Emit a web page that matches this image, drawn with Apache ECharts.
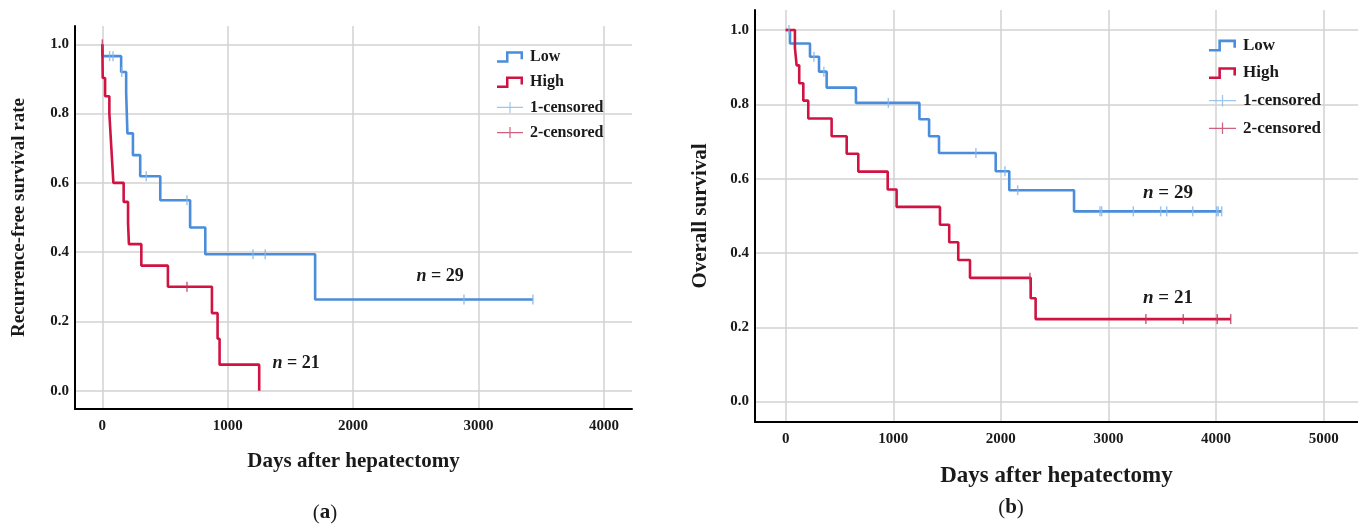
<!DOCTYPE html>
<html><head><meta charset="utf-8">
<script src="https://cdn.jsdelivr.net/npm/echarts@6/dist/echarts.min.js"></script>
<style>html,body{margin:0;padding:0;background:#fff}#c{width:1358px;height:528px}</style>
</head><body><div id="c"></div><script>
// ---------- (a) Recurrence-free survival ----------
const rfsLowTimes = [0, 2, 150, 190, 200, 244, 302, 462, 700, 821, 1697, 3434];
const rfsLowSurv  = [1.0, 0.966, 0.92, 0.86, 0.743, 0.68, 0.619, 0.55, 0.471, 0.394, 0.263, 0.263];
const rfsLowCensor = [58, 85, 155, 350, 675, 1201, 1299, 2884, 3434];

const rfsHighTimes = [0, 3, 22, 56, 64, 72, 80, 88, 170, 205, 212, 311, 523, 874, 919, 935, 1251];
const rfsHighSurv  = [1.0, 0.903, 0.85, 0.80, 0.75, 0.70, 0.65, 0.60, 0.545, 0.485, 0.423, 0.361, 0.30, 0.224, 0.150, 0.075, 0.0];
const rfsHighCensor = [0, 675];

// ---------- (b) Overall survival ----------
const osLowTimes = [0, 40, 226, 310, 381, 653, 1243, 1333, 1425, 1952, 2078, 2680, 4052];
const osLowSurv  = [1.0, 0.964, 0.928, 0.888, 0.845, 0.804, 0.760, 0.714, 0.669, 0.62, 0.569, 0.512, 0.512];
const osLowCensor = [31, 263, 355, 954, 1768, 2038, 2156, 2921, 2937, 3231, 3485, 3541, 3783, 4006, 4020, 4052];

const osHighTimes = [0, 86, 102, 126, 164, 210, 427, 567, 675, 948, 1031, 1434, 1520, 1604, 1713, 2277, 2323, 4136];
const osHighSurv  = [1.0, 0.952, 0.905, 0.857, 0.810, 0.762, 0.714, 0.667, 0.619, 0.571, 0.524, 0.476, 0.429, 0.381, 0.333, 0.278, 0.222, 0.222];
const osHighCensor = [2270, 3348, 3695, 4011, 4136];

// tick values / labels
const xTicksA = [0, 1000, 2000, 3000, 4000];
const xTicksB = [0, 1000, 2000, 3000, 4000, 5000];
const yTicks = [0, 0.2, 0.4, 0.6, 0.8, 1.0];
const legendNames = ['Low', 'High', '1-censored', '2-censored'];
const groupN = { low: 29, high: 21 };

// ---------- helpers ----------
function curve(times, surv) { return times.map((t, i) => [t, surv[i]]); }
function survAt(times, surv, t) {
  let s = surv[0];
  for (let i = 0; i < times.length; i++) { if (times[i] <= t) s = surv[i]; }
  return s;
}
function censorPts(times, surv, ct) { return ct.map(t => [t, survAt(times, surv, t)]); }

const BLUE = '#4a8ddb', RED = '#cf1443', BLUE_C = '#86b6ea', RED_C = '#c23a5c';
const FF = "'Liberation Serif', 'DejaVu Serif', serif";
const TXT = '#1a1a1a';
const stepIcon = 'path://M0,9 L9,9 L9,0 L26,0 L26,8 L23.5,8 L23.5,2.5 L11.5,2.5 L11.5,11.5 L0,11.5 Z';
const plusIcon = 'path://M0,5.4 L12.4,5.4 L12.4,0.5 L13.6,0.5 L13.6,5.4 L26,5.4 L26,6.6 L13.6,6.6 L13.6,11.5 L12.4,11.5 L12.4,6.6 L0,6.6 Z';

function xAxisCfg(gi, min, max, ticks, fs, nameFs, gap) {
  return {
    type: 'value', gridIndex: gi, min: min, max: max,
    name: 'Days after hepatectomy', nameLocation: 'middle', nameGap: gap,
    nameTextStyle: { fontFamily: FF, fontWeight: 'bold', fontSize: nameFs, color: TXT },
    axisLine: { show: true, onZero: false, lineStyle: { color: '#000', width: 2 } },
    axisTick: { show: false, customValues: ticks },
    axisLabel: { customValues: ticks, margin: 10, fontFamily: FF, fontWeight: 'bold', fontSize: fs, color: TXT,
      formatter: v => String(Math.round(v)) },
    splitLine: { show: true, lineStyle: { color: '#d2d2d2', width: 1.5 } }
  };
}
function yAxisCfg(gi, min, max, name, fs, nameFs, gap) {
  return {
    type: 'value', gridIndex: gi, min: min, max: max,
    name: name, nameLocation: 'middle', nameGap: gap, nameRotate: 90,
    nameTextStyle: { fontFamily: FF, fontWeight: 'bold', fontSize: nameFs, color: TXT },
    axisLine: { show: true, onZero: false, lineStyle: { color: '#000', width: 2 } },
    axisTick: { show: false, customValues: yTicks },
    axisLabel: { customValues: yTicks, margin: 6, fontFamily: FF, fontWeight: 'bold', fontSize: fs, color: TXT,
      formatter: v => v.toFixed(1) },
    splitLine: { show: true, lineStyle: { color: '#d2d2d2', width: 1.5 } }
  };
}
function nMark(n, x, y, fs) {
  return {
    symbol: 'circle', symbolSize: 0, silent: true,
    data: [{ coord: [x, y], value: n }],
    label: { show: true, position: 'inside', formatter: '{i|n}{b| = ' + n + '}',
      rich: { i: { fontFamily: FF, fontStyle: 'italic', fontWeight: 'bold', fontSize: fs, color: TXT },
              b: { fontFamily: FF, fontWeight: 'bold', fontSize: fs, color: TXT } } }
  };
}
function lineSeries(name, gi, times, surv, color, mark) {
  const s = { name: name, type: 'line', xAxisIndex: gi, yAxisIndex: gi, step: 'end', symbol: 'none',
    data: curve(times, surv), lineStyle: { color: color, width: 2.6 }, itemStyle: { color: color }, z: 3 };
  if (mark) s.markPoint = mark;
  return s;
}
function censorSeries(name, gi, times, surv, ct, color) {
  return { name: name, type: 'scatter', xAxisIndex: gi, yAxisIndex: gi, symbol: 'rect', symbolSize: [1.5, 10],
    data: censorPts(times, surv, ct), itemStyle: { color: color }, z: 4 };
}
function legendCfg(left, top, fs, iw, ih, gap) {
  return {
    orient: 'vertical', left: left, top: top, itemWidth: iw, itemHeight: ih, itemGap: gap,
    selectedMode: false,
    textStyle: { fontFamily: FF, fontWeight: 'bold', fontSize: fs, color: TXT, lineHeight: ih, padding: [0, 0, 0, 2] },
    data: [
      { name: legendNames[0], icon: stepIcon, itemStyle: { color: BLUE } },
      { name: legendNames[1], icon: stepIcon, itemStyle: { color: RED } },
      { name: legendNames[2], icon: plusIcon, itemStyle: { color: BLUE_C } },
      { name: legendNames[3], icon: plusIcon, itemStyle: { color: RED_C } }
    ]
  };
}

const chart = echarts.init(document.getElementById('c'), null, { renderer: 'canvas' });
chart.setOption({
  animation: false,
  backgroundColor: '#fff',
  grid: [
    { left: 75, top: 26, width: 557, height: 383 },
    { left: 755, top: 10, width: 603, height: 412 }
  ],
  xAxis: [
    xAxisCfg(0, -218, 4224, xTicksA, 15, 21, 42),
    xAxisCfg(1, -285, 5319, xTicksB, 15, 23, 43)
  ],
  yAxis: [
    yAxisCfg(0, -0.053, 1.053, 'Recurrence-free survival rate', 15, 19, 46),
    yAxisCfg(1, -0.055, 1.054, 'Overall survival', 15, 21, 44)
  ],
  legend: [
    legendCfg(492, 44, 16, 26, 11.5, 9.2),
    legendCfg(1204, 32, 17, 27, 12, 10.6)
  ],
  series: [
    lineSeries(legendNames[0], 0, rfsLowTimes, rfsLowSurv, BLUE, nMark(groupN.low, 2693, 0.329, 18)),
    lineSeries(legendNames[1], 0, rfsHighTimes, rfsHighSurv, RED, nMark(groupN.high, 1545, 0.079, 18)),
    censorSeries(legendNames[2], 0, rfsLowTimes, rfsLowSurv, rfsLowCensor, BLUE_C),
    censorSeries(legendNames[3], 0, rfsHighTimes, rfsHighSurv, rfsHighCensor, RED_C),
    lineSeries(legendNames[0], 1, osLowTimes, osLowSurv, BLUE, nMark(groupN.low, 3553, 0.561, 19)),
    lineSeries(legendNames[1], 1, osHighTimes, osHighSurv, RED, nMark(groupN.high, 3553, 0.278, 19)),
    censorSeries(legendNames[2], 1, osLowTimes, osLowSurv, osLowCensor, BLUE_C),
    censorSeries(legendNames[3], 1, osHighTimes, osHighSurv, osHighCensor, RED_C)
  ],
  graphic: [
    { type: 'text', x: 325, y: 513, style: { text: '{p|(}{b|a}{p|)}', textAlign: 'center', textVerticalAlign: 'middle',
      rich: { p: { fontFamily: FF, fontSize: 21, fill: TXT }, b: { fontFamily: FF, fontSize: 21, fontWeight: 'bold', fill: TXT } } } },
    { type: 'text', x: 1011, y: 508, style: { text: '{p|(}{b|b}{p|)}', textAlign: 'center', textVerticalAlign: 'middle',
      rich: { p: { fontFamily: FF, fontSize: 21, fill: TXT }, b: { fontFamily: FF, fontSize: 21, fontWeight: 'bold', fill: TXT } } } }
  ]
});
</script></body></html>
